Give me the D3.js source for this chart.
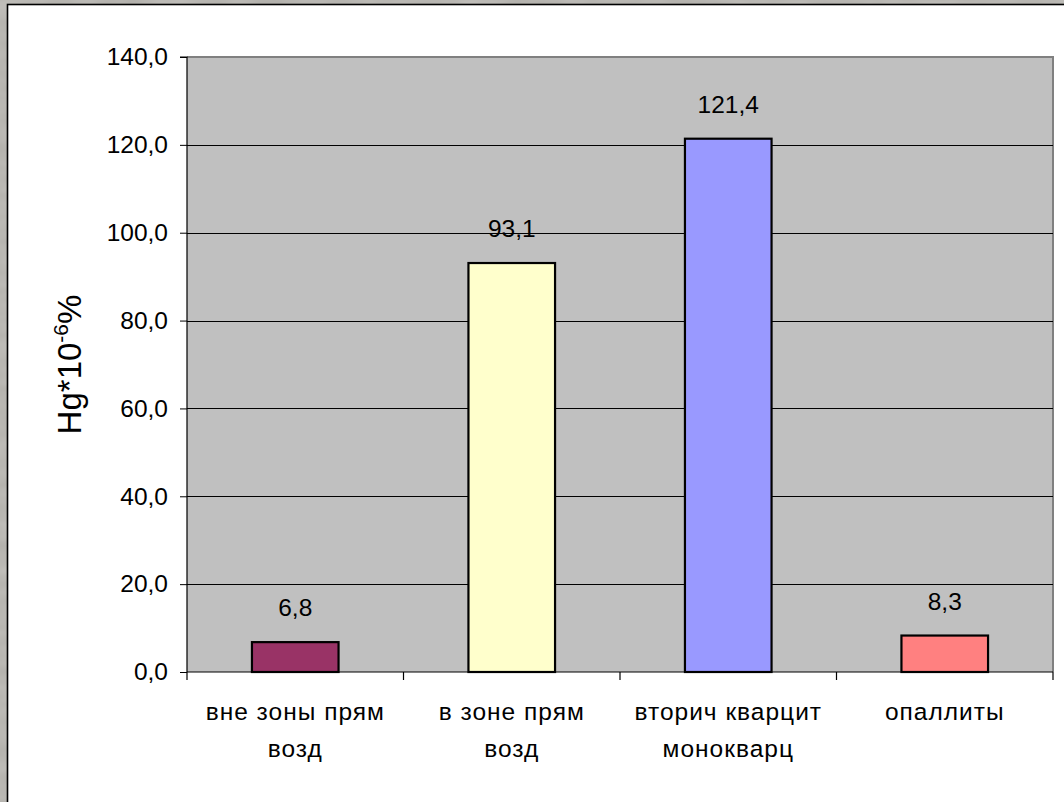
<!DOCTYPE html>
<html>
<head>
<meta charset="utf-8">
<script src="https://cdn.jsdelivr.net/npm/d3@7"></script>
<style>
  html, body { margin: 0; padding: 0; background: #b3b1ac; }
  svg { display: block; }
  text { font-family: "Liberation Sans", Arial, sans-serif; fill: #000; }
</style>
</head>
<body>
<svg id="chart" width="1064" height="802"></svg>
<script>
// Mercury content by rock type
const categories = [
  ["вне зоны прям", "возд"],
  ["в  зоне прям", "возд"],
  ["вторич кварцит", "монокварц"],
  ["опаллиты"]
];
const values = [6.8, 93.1, 121.4, 8.3];
const valueLabels = ["6,8", "93,1", "121,4", "8,3"];
const barColors = ["#993366", "#FFFFCC", "#9999FF", "#FF8080"];
const yTicks = [0, 20, 40, 60, 80, 100, 120, 140];
const yTickLabels = ["0,0", "20,0", "40,0", "60,0", "80,0", "100,0", "120,0", "140,0"];

const svg = d3.select("#chart");
const W = 1064, H = 802;

// subtle stone texture behind the white panel
const defs = svg.append("defs");
const f = defs.append("filter").attr("id", "stone").attr("x", 0).attr("y", 0).attr("width", "100%").attr("height", "100%");
f.append("feTurbulence").attr("type", "fractalNoise").attr("baseFrequency", "0.02 0.05").attr("numOctaves", 3).attr("seed", 4).attr("result", "n");
f.append("feColorMatrix").attr("in", "n").attr("type", "matrix")
  .attr("values", "0 0 0 0 0.70  0 0 0 0 0.69  0 0 0 0 0.67  0.6 0 0 0 -0.15");
svg.append("rect").attr("width", W).attr("height", H).attr("fill", "#b3b1ac");
svg.append("rect").attr("width", W).attr("height", H).attr("filter", "url(#stone)");

// white chart panel
svg.append("rect")
  .attr("x", 7.5).attr("y", 4.5).attr("width", W + 10).attr("height", H + 10)
  .attr("fill", "#fff").attr("stroke", "#000").attr("stroke-width", 1.6);

const plot = { left: 187, right: 1053, top: 57, bottom: 672 };

const x = d3.scaleBand()
  .domain(d3.range(categories.length))
  .range([plot.left, plot.right])
  .paddingInner(0.6).paddingOuter(0.3);

const xb = d3.scaleBand()
  .domain(d3.range(categories.length))
  .range([plot.left, plot.right]);

const y = d3.scaleLinear().domain([0, 140]).range([plot.bottom, plot.top]);

// plot background
svg.append("rect")
  .attr("x", plot.left).attr("y", plot.top)
  .attr("width", plot.right - plot.left).attr("height", plot.bottom - plot.top)
  .attr("fill", "#C0C0C0");

// top/right frame of the plot area
svg.append("path")
  .attr("d", `M${plot.left},${plot.top}H${plot.right}V${plot.bottom}`)
  .attr("fill", "none").attr("stroke", "#808080").attr("stroke-width", 2);

// gridlines
svg.append("g").selectAll("line")
  .data(yTicks.filter(d => d > 0 && d < 140))
  .join("line")
  .attr("x1", plot.left).attr("x2", plot.right)
  .attr("y1", d => Math.round(y(d)) + 0.5).attr("y2", d => Math.round(y(d)) + 0.5)
  .attr("stroke", "#000").attr("stroke-width", 1);

// bars
svg.append("g").selectAll("rect")
  .data(values)
  .join("rect")
  .attr("x", (d, i) => x(i))
  .attr("y", d => y(d))
  .attr("width", x.bandwidth())
  .attr("height", d => y(0) - y(d))
  .attr("fill", (d, i) => barColors[i])
  .attr("stroke", "#000").attr("stroke-width", 2.2);

// value labels
svg.append("g").selectAll("text")
  .data(values)
  .join("text")
  .attr("x", (d, i) => x(i) + x.bandwidth() / 2)
  .attr("y", d => y(d) - 26)
  .attr("text-anchor", "middle")
  .attr("font-size", 24.5)
  .text((d, i) => valueLabels[i]);

// y axis
const yAxis = d3.axisLeft(y)
  .tickValues(yTicks)
  .tickFormat((d, i) => yTickLabels[i])
  .tickSize(7).tickPadding(12);
const gy = svg.append("g").attr("transform", `translate(${plot.left},0)`).call(yAxis);
gy.select(".domain").attr("stroke", "#000").attr("stroke-width", 1.2).attr("d", `M-7,${plot.top}H0V${plot.bottom}`);
gy.selectAll(".tick line").attr("stroke", "#000");
gy.selectAll(".tick text").attr("font-size", 24.5).attr("font-family", "Liberation Sans, Arial, sans-serif").attr("fill", "#000");

// x axis (category boundaries)
const gx = svg.append("g");
gx.append("line")
  .attr("x1", plot.left).attr("x2", plot.right)
  .attr("y1", plot.bottom).attr("y2", plot.bottom)
  .attr("stroke", "#000").attr("stroke-width", 1.2);
gx.selectAll("line.tk")
  .data(d3.range(categories.length + 1))
  .join("line").attr("class", "tk")
  .attr("x1", i => i < categories.length ? xb(i) : plot.right)
  .attr("x2", i => i < categories.length ? xb(i) : plot.right)
  .attr("y1", plot.bottom).attr("y2", plot.bottom + 8)
  .attr("stroke", "#000").attr("stroke-width", 1.2);

// category labels
const cl = svg.append("g").selectAll("text")
  .data(categories)
  .join("text")
  .attr("text-anchor", "middle")
  .attr("font-size", 24.5)
  .attr("letter-spacing", 1)
  .attr("x", (d, i) => xb(i) + xb.bandwidth() / 2)
  .attr("y", 720);
cl.selectAll("tspan")
  .data(d => d)
  .join("tspan")
  .attr("x", function () { return d3.select(this.parentNode).attr("x"); })
  .attr("dy", (d, j) => j === 0 ? 0 : 37)
  .text(d => d);

// y axis title
const title = svg.append("text")
  .attr("transform", `translate(81,${(plot.top + plot.bottom) / 2}) rotate(-90)`)
  .attr("text-anchor", "middle")
  .attr("font-size", 33);
title.append("tspan").text("Hg*10");
title.append("tspan").attr("font-size", 21).attr("dy", -13).text("-6");
title.append("tspan").attr("dy", 13).text("%");
</script>
</body>
</html>
